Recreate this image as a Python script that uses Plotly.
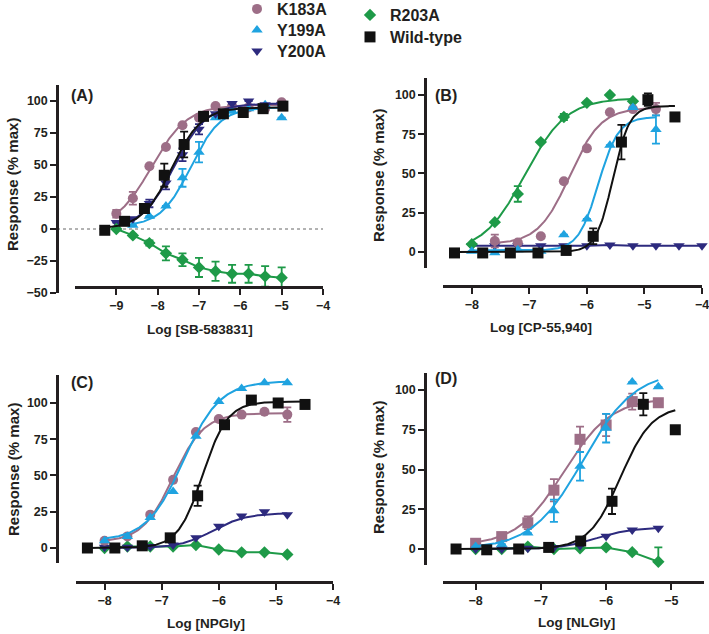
import numpy as np
import plotly.graph_objects as go

W, H = 709, 634

# ---------------- colours / names ----------------
NAMES = ["K183A", "Y199A", "Y200A", "R203A", "Wild-type"]
COLORS = ["#9D6E87", "#1FA3E0", "#2D2A7E", "#1E9A48", "#111111"]
SYMBOLS = ["circle", "triangle-up", "triangle-down", "diamond", "square"]
SIZES = {"circle": 10, "triangle-up": 10, "triangle-down": 10, "diamond": 9.5, "square": 11}

# ---------------- Panel A : SB-583831 ----------------
A_X_MUT = [-9.0, -8.6, -8.2, -7.8, -7.4, -7.0, -6.6, -6.2, -5.8, -5.4, -5.0]
A_X_Y199 = [-8.6, -8.2, -7.8, -7.4, -7.0, -6.6, -6.2, -5.8, -5.4, -5.0]
A_X_WT = [-9.28, -8.8, -8.32, -7.84, -7.36, -6.89, -6.41, -5.93, -5.45, -4.97]
A_K183 = [12, 24, 49, 64, 81, 87, 96, 96, 95, 94, 99]
A_K183_E = [3, 5, 0, 0, 0, 0, 0, 0, 0, 0, 0]
A_Y199 = [3, 10, 18, 40, 60, 87, 92, 94, 97, 87]
A_Y199_E = [0, 0, 0, 7, 8, 0, 0, 0, 0, 0]
A_Y200 = [5, 8, 20, 36, 58, 78, 90, 98, 100, 97, 97]
A_Y200_E = [0, 0, 3, 5, 5, 4, 0, 0, 0, 0, 0]
A_R203 = [0, -5, -11, -19, -24, -30, -33, -35, -35, -37, -38]
A_R203_E = [0, 1, 2, 5.5, 5, 7.5, 7.5, 7, 7, 8, 8]
A_WT = [-1, 6, 16, 42, 66, 88, 90, 91, 94, 96]
A_WT_E = [0, 0, 0, 9, 10, 0, 0, 0, 0, 0]
# fitted curve parameters [bottom, top, logEC50, hill]
A_FIT = {"K183A": [0, 97, -8.15, 1.0], "Y199A": [2, 95, -7.2, 1.2],
         "Y200A": [0, 98, -7.6, 1.1], "Wild-type": [0, 95, -7.66, 1.2]}

# ---------------- Panel B : CP-55,940 ----------------
B_X_R203 = [-8.0, -7.6, -7.2, -6.8, -6.4, -6.0, -5.6, -5.2]
B_R203 = [5, 19, 37, 70, 86, 95, 100, 96]
B_R203_E = [0, 0, 5, 0, 2, 0, 0, 0]
B_X_K183 = [-7.6, -7.2, -6.8, -6.4, -6.0, -5.6, -5.2, -4.8]
B_K183 = [7, 6, 10, 45, 66, 89, 91, 91]
B_K183_E = [4, 0, 0, 0, 0, 0, 0, 4]
B_X_Y199 = [-8.0, -7.6, -7.2, -6.8, -6.4, -6.0, -5.6, -5.2, -4.8]
B_Y199 = [0.5, -0.5, 1.5, 0.5, 11, 21, 68, 92, 78]
B_Y199_E = [0, 0, 0, 0, 0, 0, 0, 0, 9]
B_X_Y200 = [-8.0, -7.6, -7.2, -6.8, -6.4, -6.0, -5.6, -5.2, -4.8, -4.4, -4.0]
B_Y200 = [4, 4, 4, 4, 4, 4, 4.5, 4, 4, 4, 4]
B_X_WT = [-8.3, -7.81, -7.33, -6.85, -6.36, -5.89, -5.4, -4.94, -4.47]
B_WT = [-0.6, -0.6, -0.6, -0.6, 1, 10, 70, 97, 86]
B_WT_E = [0, 0, 0, 0, 0, 5, 11, 4, 0]
B_FIT = {"R203A": [0, 98, -7.08, 1.2], "K183A": [5, 92, -6.3, 1.6],
         "Y199A": [1, 86, -5.8, 2.5], "Wild-type": [0, 93, -5.55, 3.0]}

# ---------------- Panel C : NPGly ----------------
C_X_MUT = [-8.0, -7.6, -7.2, -6.8, -6.4, -6.0, -5.6, -5.2, -4.8]
C_K183 = [5, 8, 23, 47, 80, 89, 92, 94, 92]
C_K183_E = [0, 0, 0, 0, 0, 0, 0, 0, 5]
C_Y199 = [5, 8, 21, 39, 77, 101, 110, 114, 114]
C_Y200 = [0.5, 0.5, 1, 2, 7, 15, 22, 25, 23]
C_R203 = [0, 1, 1, 1, 2, -1, -3, -3, -4.5]
C_X_WT = [-8.3, -7.82, -7.34, -6.85, -6.37, -5.9, -5.43, -4.96, -4.49]
C_WT = [0, 0, 1.5, 7, 36, 85, 102, 100, 99]
C_WT_E = [0, 0, 0, 0, 7, 0, 0, 0, 0]
C_FIT = {"K183A": [4, 93, -6.8, 1.6], "Y199A": [5, 115, -6.62, 1.35],
         "Y200A": [0, 24, -6.1, 1.5], "Wild-type": [0, 101, -6.28, 2.0]}

# ---------------- Panel D : NLGly ----------------
D_X_MUT = [-8.0, -7.6, -7.2, -6.8, -6.4, -6.0, -5.6, -5.2]
D_K183 = [3.6, 7.8, 16.5, 37, 69, 78, 92.7, 92]
D_K183_E = [0, 0, 4, 7, 8, 7, 5, 0]
D_Y199 = [1.5, 3, 10, 24, 52, 76, 105, 102]
D_Y199_E = [0, 0, 0, 7, 9, 9, 0, 0]
D_Y200 = [0, 0, 0.5, 1, 2, 8, 12, 13]
D_R203 = [0, 0, 1.5, 0, 0.5, 1, -2, -8]
D_R203_E = [0, 0, 0, 0, 0, 0, 0, 9]
D_X_WT = [-8.3, -7.83, -7.34, -6.88, -6.39, -5.91, -5.43, -4.94]
D_WT = [0, -0.5, 0, 1, 5, 30, 91, 75]
D_WT_E = [0, 0, 0, 0, 0, 8, 7, 0]
D_FIT = {"K183A": [2, 95, -6.65, 1.2], "Y199A": [0, 112, -6.35, 1.1],
         "Y200A": [0, 13.5, -6.15, 1.6], "Wild-type": [0, 90, -5.78, 1.8]}

PANEL_LABELS = ["(A)", "(B)", "(C)", "(D)"]
X_TITLES = ["Log [SB-583831]", "Log [CP-55,940]", "Log [NPGly]", "Log [NLGly]"]
Y_TITLE = "Response (% max)"

FONT = "Liberation Sans, Arial, Helvetica, sans-serif"
TXT = "#231F20"


def hill(x, b, t, ec, h):
    return b + (t - b) / (1 + 10 ** ((ec - x) * h))


fig = go.Figure()


def add_series(k, name, xs, ys, err=None, fit=None, legend=None, symbol=None):
    i = NAMES.index(name)
    col = COLORS[i]
    ax = "" if k == 1 else str(k)
    if fit is not None:
        xx = np.linspace(min(xs), max(xs), 200)
        yy = hill(xx, *fit)
    else:
        xx, yy = xs, ys
    fig.add_trace(go.Scatter(x=xx, y=yy, mode="lines", line=dict(color=col, width=2),
                             xaxis="x" + ax, yaxis="y" + ax, showlegend=False,
                             hoverinfo="skip"))
    sym = symbol or SYMBOLS[i]
    fig.add_trace(go.Scatter(
        x=xs, y=ys, mode="markers", name=name,
        marker=dict(symbol=sym, size=SIZES[sym], color=col, line=dict(width=0)),
        error_y=dict(type="data", array=err if err is not None else [0] * len(ys),
                     visible=err is not None, color=col, thickness=1.8, width=4),
        cliponaxis=False,
        xaxis="x" + ax, yaxis="y" + ax,
        showlegend=legend is not None, legend=legend or "legend"))


# Panel A (also feeds the legend)
add_series(1, "K183A", A_X_MUT, A_K183, A_K183_E, A_FIT["K183A"], "legend")
add_series(1, "Y199A", A_X_Y199, A_Y199, A_Y199_E, A_FIT["Y199A"], "legend2")
add_series(1, "Y200A", A_X_MUT, A_Y200, A_Y200_E, A_FIT["Y200A"], "legend3")
add_series(1, "R203A", A_X_MUT, A_R203, A_R203_E, None, "legend4")
add_series(1, "Wild-type", A_X_WT, A_WT, A_WT_E, A_FIT["Wild-type"], "legend5")
# Panel B
add_series(2, "Y200A", B_X_Y200, B_Y200, None, None)
add_series(2, "R203A", B_X_R203, B_R203, B_R203_E, B_FIT["R203A"])
add_series(2, "K183A", B_X_K183, B_K183, B_K183_E, B_FIT["K183A"])
add_series(2, "Y199A", B_X_Y199, B_Y199, B_Y199_E, B_FIT["Y199A"])
add_series(2, "Wild-type", B_X_WT, B_WT, B_WT_E, B_FIT["Wild-type"])
# Panel C
add_series(3, "R203A", C_X_MUT, C_R203, None, None)
add_series(3, "Y200A", C_X_MUT, C_Y200, None, C_FIT["Y200A"])
add_series(3, "K183A", C_X_MUT, C_K183, C_K183_E, C_FIT["K183A"])
add_series(3, "Y199A", C_X_MUT, C_Y199, None, C_FIT["Y199A"])
add_series(3, "Wild-type", C_X_WT, C_WT, C_WT_E, C_FIT["Wild-type"])
# Panel D
add_series(4, "R203A", D_X_MUT, D_R203, D_R203_E, None)
add_series(4, "Y200A", D_X_MUT, D_Y200, None, D_FIT["Y200A"])
add_series(4, "K183A", D_X_MUT, D_K183, D_K183_E, D_FIT["K183A"], symbol="square")
add_series(4, "Y199A", D_X_MUT, D_Y199, D_Y199_E, D_FIT["Y199A"])
add_series(4, "Wild-type", D_X_WT, D_WT, D_WT_E, D_FIT["Wild-type"])


def px(v):
    return v / W


def py(v):
    return 1 - v / H


# layout geometry (pixels): x-domain, x-range, x ticks, x-axis y pos,
# y-axis x pos, y-domain (top, bottom), y-range, y ticks
GEOM = [
    dict(xd=(75, 323), xr=(-10, -4), xt=[-9, -8, -7, -6, -5, -4], xp=287,
         yp=57, yd=(85, 293), yr=(-50, 112.5), yt=[-50, -25, 0, 25, 50, 75, 100]),
    dict(xd=(443, 702), xr=(-8.5, -4), xt=[-8, -7, -6, -5, -4], xp=286,
         yp=425, yd=(78, 267.7), yr=(-10, 110.8), yt=[0, 25, 50, 75, 100]),
    dict(xd=(76, 333), xr=(-8.5, -4), xt=[-8, -7, -6, -5, -4], xp=582,
         yp=57, yd=(375, 562.5), yr=(-10, 119.3), yt=[0, 25, 50, 75, 100]),
    dict(xd=(443, 704), xr=(-8.5, -4.5), xt=[-8, -7, -6, -5], xp=582,
         yp=425, yd=(373, 564.9), yr=(-10, 110.7), yt=[0, 25, 50, 75, 100]),
]

axis_common = dict(showline=True, linewidth=2.5, linecolor=TXT, ticks="outside",
                   ticklen=6, tickwidth=2, tickcolor=TXT, showgrid=False, zeroline=False,
                   ticklabeloverflow="allow", automargin=False,
                   tickfont=dict(family=FONT, size=12.5, color=TXT, weight="bold"))
layout = {}
for k, g in enumerate(GEOM, start=1):
    s = "" if k == 1 else str(k)
    layout["xaxis" + s] = dict(domain=[px(g["xd"][0]), px(g["xd"][1])], range=list(g["xr"]),
                               tickvals=g["xt"], anchor="free", position=py(g["xp"]),
                               **axis_common)
    layout["yaxis" + s] = dict(domain=[py(g["yd"][1]), py(g["yd"][0])], range=list(g["yr"]),
                               tickvals=g["yt"], anchor="free", position=px(g["yp"]),
                               **axis_common)

fig.update_layout(**layout)

# annotations: panel labels, axis titles
ann = []
LABEL_POS = [(69, 96), (433, 96), (69, 382), (433, 379)]
XT_POS = [(200, 329), (541, 327), (206, 623), (576, 622)]
YT_POS = [(13, 185), (378, 175), (13, 470), (378, 467)]
for k in range(4):
    ann.append(dict(text=PANEL_LABELS[k], x=px(LABEL_POS[k][0]), y=py(LABEL_POS[k][1]),
                    xref="paper", yref="paper", xanchor="left", yanchor="middle",
                    showarrow=False, font=dict(family=FONT, size=16, color=TXT, weight="bold")))
    ann.append(dict(text=X_TITLES[k], x=px(XT_POS[k][0]), y=py(XT_POS[k][1]),
                    xref="paper", yref="paper", xanchor="center", yanchor="middle",
                    showarrow=False, font=dict(family=FONT, size=13.5, color=TXT, weight="bold")))
    ann.append(dict(text=Y_TITLE, x=px(YT_POS[k][0]), y=py(YT_POS[k][1]), textangle=-90,
                    xref="paper", yref="paper", xanchor="center", yanchor="middle",
                    showarrow=False, font=dict(family=FONT, size=15, color=TXT, weight="bold")))

# one legend box per entry, laid out in two columns as in the original
LEG_FONT = dict(family=FONT, size=16, color=TXT, weight="bold")
LEG_POS = [(237, 9), (237, 30), (237, 51), (350, 15), (350, 37)]  # (left px, item centre px)
legends = {}
for j, (lx, ly) in enumerate(LEG_POS):
    key = "legend" if j == 0 else "legend%d" % (j + 1)
    legends[key] = dict(x=px(lx), y=py(ly - 17), xanchor="left", yanchor="top",
                        bgcolor="rgba(0,0,0,0)", font=LEG_FONT, itemsizing="trace")

fig.update_layout(
    width=W, height=H, margin=dict(l=0, r=0, t=0, b=0, autoexpand=False),
    paper_bgcolor="white", plot_bgcolor="rgba(0,0,0,0)",
    annotations=ann,
    shapes=[dict(type="line", xref="paper", yref="y", x0=px(57), x1=px(323), y0=0, y1=0,
                 line=dict(color="#666666", width=1, dash="dot"), layer="below")],
    font=dict(family=FONT, color=TXT),
    **legends,
)

fig.write_html("out.html", config={"displayModeBar": False},
               post_script="document.body.style.margin='0px';")
